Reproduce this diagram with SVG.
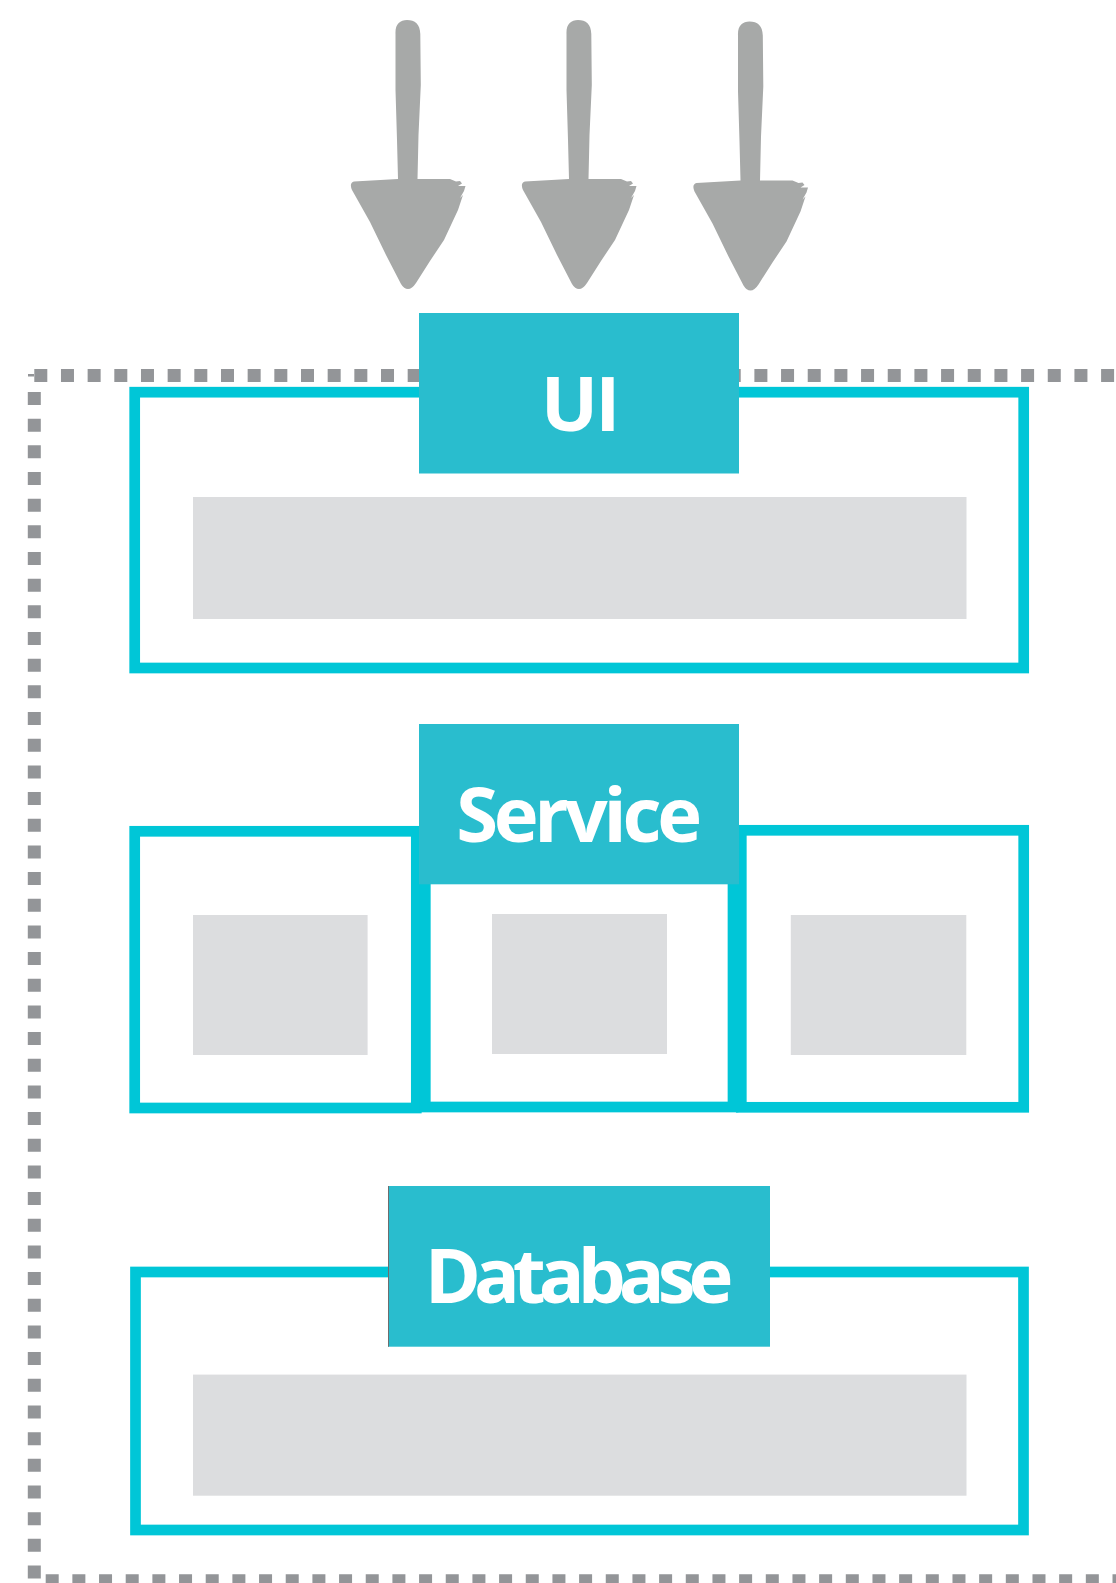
<svg xmlns="http://www.w3.org/2000/svg" width="1116" height="1583" viewBox="0 0 1116 1583">
  <style>
    .frame { fill: none; stroke: #00c6d7; stroke-width: 10.7; }
    .slot { fill: #dcdddf; }
    .label { fill: #29bdce; }
    .label-text { fill: #ffffff; font-family: "Open Sans", "Noto Sans", sans-serif; font-weight: 700; font-size: 76px; text-anchor: middle; letter-spacing: -3px; }
    .boundary { fill: none; stroke: #939598; stroke-width: 13; stroke-dasharray: 13 13.67; }
    .arrow { fill: #a7a9a8; }
  </style>
  <defs>
    <path id="brushArrow" d="M 395.5,34 C 395,24 400,20 407,20 C 415,20 420,24 420.3,34 L 420.8,85 L 418.5,135 L 417.5,179 L 450,179 L 456,181.5 L 460,181 L 462,183.5 L 458,186 L 465.5,186 L 464,191 L 460,198 L 463,195 L 458,210 L 444,240 L 430,261 L 416,283 Q 412,289 408,289 Q 404,289 401,284 L 386,255 L 370,222 L 352,190 Q 349,183 354,181.5 L 398,179 L 397,140 L 395.5,90 Z"/>
  </defs>

  <g id="boundary">
    <line class="boundary" x1="34.3" y1="375.5" x2="1116" y2="375.5"/>
    <line class="boundary" x1="34.3" y1="392" x2="34.3" y2="1578.5"/>
    <line class="boundary" x1="45.7" y1="1580.8" x2="1116" y2="1580.8"/>
    <rect x="28" y="374" width="6" height="2.5" fill="#939598"/>
  </g>

  <g id="connectors">
    <use href="#brushArrow" class="arrow"/>
    <use href="#brushArrow" class="arrow" transform="translate(171,0)"/>
    <use href="#brushArrow" class="arrow" transform="translate(342.5,1.5)"/>
  </g>

  <g id="ui">
    <rect class="frame" x="134.7" y="392.2" width="889" height="275.8"/>
    <rect class="slot" x="193" y="497" width="773.5" height="122"/>
    <rect class="label" x="419" y="313" width="320" height="160.5"/>
    <text class="label-text" x="579" y="431">UI</text>
  </g>

  <g id="service">
    <rect class="frame" x="134.7" y="831.3" width="281.6" height="276.7"/>
    <rect class="frame" x="741.3" y="830.3" width="282.4" height="277"/>
    <rect class="frame" x="425.3" y="878" width="307.7" height="229"/>
    <rect class="slot" x="193" y="915" width="174.6" height="140"/>
    <rect class="slot" x="492" y="914" width="175" height="140"/>
    <rect class="slot" x="790.8" y="915" width="175.5" height="140"/>
    <rect class="label" x="419" y="724" width="320" height="160.3"/>
    <text class="label-text" x="577" y="841.7" style="letter-spacing:-4.3px">Service</text>
  </g>

  <g id="database">
    <rect class="frame" x="135.5" y="1272" width="888" height="258"/>
    <rect class="slot" x="193" y="1374.6" width="773.5" height="121.1"/>
    <rect class="label" x="388" y="1186" width="382" height="160.7"/>
    <line x1="388.5" y1="1186" x2="388.5" y2="1346.7" stroke="#6d6e6e" stroke-width="1"/>
    <text class="label-text" x="575.5" y="1302.7" style="letter-spacing:-7px">Database</text>
  </g>
</svg>
